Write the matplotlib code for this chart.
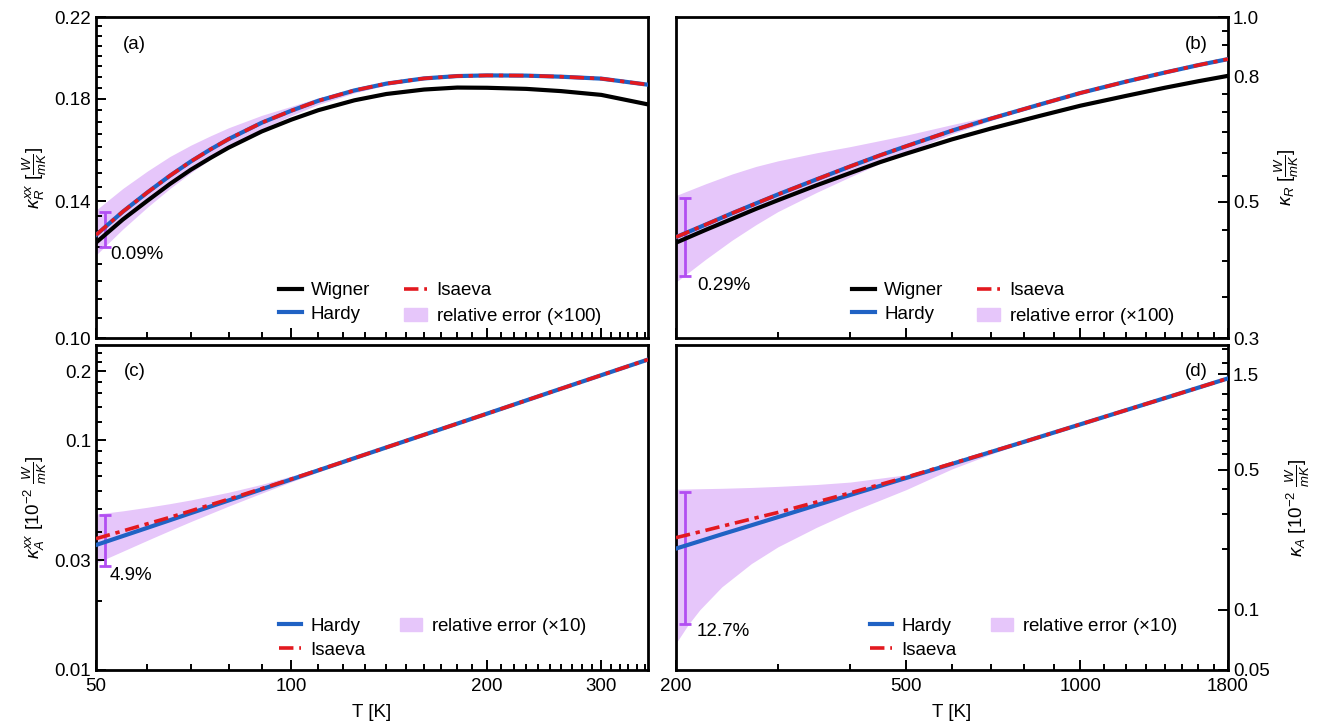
"""Thermal conductivity comparison: Wigner / Hardy / Isaeva"""

import matplotlib
matplotlib.use("Agg")
import matplotlib.pyplot as plt
from matplotlib.patches import Patch
from matplotlib.ticker import FixedLocator, NullFormatter

plt.rcParams["font.family"] = ["Liberation Sans", "DejaVu Sans"]
plt.rcParams["mathtext.fontset"] = "custom"
plt.rcParams["mathtext.rm"] = "Liberation Sans"
plt.rcParams["mathtext.it"] = "Liberation Sans:italic"

# ---- panel (a): kappa_R^xx, low T ----
T_a = [50, 55, 60, 65, 70, 75, 80, 90, 100, 110, 125, 140, 160, 180, 200, 230, 260, 300, 354]
wigner_a = [0.1264, 0.1338, 0.1401, 0.1460, 0.1512, 0.1556, 0.1596, 0.1661, 0.1710, 0.1750,
            0.1793, 0.1821, 0.1841, 0.1850, 0.1849, 0.1844, 0.1834, 0.1817, 0.1775]
hardy_a = [0.1288, 0.1364, 0.1430, 0.1490, 0.1543, 0.1589, 0.1630, 0.1697, 0.1748, 0.1791,
           0.1837, 0.1868, 0.1892, 0.1903, 0.1906, 0.1905, 0.1900, 0.1891, 0.1863]
isaeva_a = [0.1288, 0.1364, 0.1430, 0.1490, 0.1543, 0.1589, 0.1630, 0.1697, 0.1748, 0.1791,
            0.1837, 0.1868, 0.1892, 0.1903, 0.1906, 0.1905, 0.1900, 0.1891, 0.1863]
band_hi_a = [0.1369, 0.1444, 0.1507, 0.1562, 0.1606, 0.1643, 0.1676, 0.1728, 0.1767, 0.1804,
             0.1843, 0.1871, 0.1894, 0.1905, 0.1908, 0.1907, 0.1902, 0.1893, 0.1865]
band_lo_a = [0.1226, 0.1307, 0.1379, 0.1444, 0.1501, 0.1551, 0.1596, 0.1670, 0.1727, 0.1775,
             0.1826, 0.1861, 0.1888, 0.1901, 0.1904, 0.1903, 0.1898, 0.1889, 0.1861]
err_a = (51.6, 0.1250, 0.1363, "0.09%")

# ---- panel (b): kappa_R, high T ----
T_b = [200, 225, 250, 275, 300, 350, 400, 450, 500, 600, 700, 850, 1000, 1200, 1400, 1600, 1800]
wigner_b = [0.429, 0.450, 0.469, 0.487, 0.503, 0.532, 0.557, 0.580, 0.599,
            0.632, 0.658, 0.690, 0.717, 0.744, 0.767, 0.786, 0.802]
hardy_b = [0.438, 0.459, 0.479, 0.497, 0.514, 0.544, 0.571, 0.595, 0.616,
           0.653, 0.683, 0.720, 0.752, 0.785, 0.812, 0.835, 0.854]
isaeva_b = [0.438, 0.459, 0.479, 0.497, 0.514, 0.544, 0.571, 0.595, 0.616,
            0.653, 0.683, 0.720, 0.752, 0.785, 0.812, 0.835, 0.854]
band_hi_b = [0.512, 0.535, 0.555, 0.571, 0.583, 0.601, 0.615, 0.629, 0.642,
             0.668, 0.690, 0.724, 0.754, 0.786, 0.813, 0.836, 0.855]
band_lo_b = [0.370, 0.403, 0.433, 0.459, 0.482, 0.518, 0.549, 0.577, 0.602,
             0.645, 0.678, 0.718, 0.751, 0.784, 0.811, 0.834, 0.853]
err_b = (207, 0.3787, 0.5077, "0.29%")

# ---- panel (c): kappa_A^xx, low T ----
T_c = [50, 55, 60, 65, 70, 80, 90, 100, 115, 130, 150, 200, 250, 300, 354]
hardy_c = [0.0350, 0.0383, 0.0416, 0.0449, 0.0482, 0.0547, 0.0612, 0.0676,
           0.0772, 0.0868, 0.0994, 0.1306, 0.1616, 0.1921, 0.2247]
isaeva_c = [0.0373, 0.0403, 0.0433, 0.0462, 0.0493, 0.0554, 0.0616, 0.0678,
            0.0773, 0.0868, 0.0994, 0.1306, 0.1616, 0.1921, 0.2247]
band_hi_c = [0.0477, 0.0493, 0.0511, 0.0530, 0.0550, 0.0594, 0.0643, 0.0699,
             0.0787, 0.0876, 0.0998, 0.1308, 0.1618, 0.1923, 0.2249]
band_lo_c = [0.0292, 0.0329, 0.0367, 0.0405, 0.0443, 0.0517, 0.0589, 0.0660,
             0.0763, 0.0864, 0.0993, 0.1305, 0.1615, 0.1920, 0.2246]
err_c = (51.6, 0.0283, 0.0472, "4.9%")

# ---- panel (d): kappa_A, high T ----
T_d = [200, 210, 220, 240, 270, 300, 350, 400, 500, 600, 700, 800, 1000, 1200, 1400, 1600, 1800]
hardy_d = [0.202, 0.211, 0.220, 0.238, 0.264, 0.290, 0.333, 0.374, 0.455,
           0.535, 0.613, 0.690, 0.843, 0.993, 1.140, 1.286, 1.430]
isaeva_d = [0.229, 0.237, 0.245, 0.261, 0.284, 0.306, 0.345, 0.383, 0.459,
            0.537, 0.614, 0.690, 0.843, 0.993, 1.140, 1.286, 1.430]
band_hi_d = [0.400, 0.401, 0.402, 0.404, 0.408, 0.413, 0.422, 0.434, 0.472,
             0.543, 0.617, 0.692, 0.844, 0.994, 1.141, 1.287, 1.431]
band_lo_d = [0.068, 0.0843, 0.1001, 0.130, 0.170, 0.206, 0.258, 0.307, 0.398,
             0.505, 0.598, 0.683, 0.840, 0.990, 1.137, 1.283, 1.427]
err_d = (207, 0.0849, 0.388, "12.7%")

C_WIGNER = "black"
C_HARDY = "#2062c4"
C_ISAEVA = "#e3191f"
C_BAND = "#e6c6fa"
C_ERR = "#b24ef2"
FS = 13.5

fig = plt.figure(figsize=(13.2, 7.24), dpi=100)
ax_a = fig.add_axes([0.0727, 0.5331, 0.4182, 0.4434])
ax_b = fig.add_axes([0.5121, 0.5331, 0.4182, 0.4434])
ax_c = fig.add_axes([0.0727, 0.0746, 0.4182, 0.4489])
ax_d = fig.add_axes([0.5121, 0.0746, 0.4182, 0.4489])


def draw(ax, T, band_lo, band_hi, err, hardy, isaeva, wigner=None):
    ax.fill_between(T, band_lo, band_hi, color=C_BAND, lw=0, zorder=1)
    t0, lo, hi, txt = err
    ax.errorbar([t0], [(lo + hi) / 2], yerr=[(hi - lo) / 2], color=C_ERR,
                lw=2, capsize=4, capthick=2, zorder=2)
    if wigner is not None:
        ax.plot(T, wigner, color=C_WIGNER, lw=3, zorder=3, label="Wigner")
    ax.plot(T, hardy, color=C_HARDY, lw=3, zorder=4, label="Hardy")
    ax.plot(T, isaeva, color=C_ISAEVA, lw=2.6, dashes=(4, 1.6, 1.2, 1.6),
            zorder=5, label="Isaeva")
    return txt


def style(ax, xlim, ylim, xmaj, xmin, ymaj, ymin, ylabels, right=False):
    ax.set_xscale("log")
    ax.set_yscale("log")
    ax.set_xlim(*xlim)
    ax.set_ylim(*ylim)
    ax.xaxis.set_major_locator(FixedLocator(xmaj))
    ax.xaxis.set_minor_locator(FixedLocator(xmin))
    ax.yaxis.set_major_locator(FixedLocator(ymaj))
    ax.yaxis.set_minor_locator(FixedLocator(ymin))
    ax.xaxis.set_minor_formatter(NullFormatter())
    ax.yaxis.set_minor_formatter(NullFormatter())
    ax.set_xticklabels([str(v) for v in xmaj])
    ax.set_yticklabels(ylabels)
    ax.tick_params(which="both", direction="in", labelsize=FS, width=1.4,
                   top=False, right=right, left=not right,
                   labelleft=not right, labelright=right)
    ax.tick_params(which="major", length=7)
    ax.tick_params(which="minor", length=4)
    ax.tick_params(axis="x", pad=6)
    for s in ax.spines.values():
        s.set_linewidth(2)
    if right:
        ax.yaxis.set_label_position("right")


txt_a = draw(ax_a, T_a, band_lo_a, band_hi_a, err_a, hardy_a, isaeva_a, wigner_a)
txt_b = draw(ax_b, T_b, band_lo_b, band_hi_b, err_b, hardy_b, isaeva_b, wigner_b)
txt_c = draw(ax_c, T_c, band_lo_c, band_hi_c, err_c, hardy_c, isaeva_c)
txt_d = draw(ax_d, T_d, band_lo_d, band_hi_d, err_d, hardy_d, isaeva_d)

x_lo_min = list(range(60, 100, 10)) + list(range(110, 200, 10)) + \
    list(range(210, 300, 10)) + list(range(310, 360, 10))
x_hi_min = [300, 400] + list(range(600, 1000, 100)) + list(range(1100, 1800, 100))

style(ax_a, (50, 354), (0.10, 0.22), [50, 100, 200, 300], x_lo_min,
      [0.10, 0.14, 0.18, 0.22], [0.105 + 0.005 * i for i in range(23)],
      ["0.10", "0.14", "0.18", "0.22"])
style(ax_b, (200, 1800), (0.3, 1.0), [200, 500, 1000, 1800], x_hi_min,
      [0.3, 0.5, 0.8, 1.0], [0.35 + 0.05 * i for i in range(13)],
      ["0.3", "0.5", "0.8", "1.0"], right=True)
style(ax_c, (50, 354), (0.01, 0.26), [50, 100, 200, 300], x_lo_min,
      [0.01, 0.03, 0.1, 0.2],
      [0.02, 0.04, 0.05, 0.06, 0.07, 0.08, 0.09, 0.12, 0.14, 0.16, 0.18, 0.22, 0.24],
      ["0.01", "0.03", "0.1", "0.2"])
style(ax_d, (200, 1800), (0.05, 2.1), [200, 500, 1000, 1800], x_hi_min,
      [0.05, 0.1, 0.5, 1.5], [0.2, 0.3, 0.4, 0.6, 0.7, 0.8, 0.9, 1.0, 1.2, 1.7, 2.0],
      ["0.05", "0.1", "0.5", "1.5"], right=True)

ax_a.tick_params(labelbottom=False)
ax_b.tick_params(labelbottom=False)

ax_a.set_ylabel(r"$\kappa_R^{xx}\ [\frac{W}{mK}]$", fontsize=FS)
ax_b.set_ylabel(r"$\kappa_R\ [\frac{W}{mK}]$", fontsize=FS, labelpad=10)
ax_c.set_ylabel(r"$\kappa_A^{xx}\ [10^{-2}\ \frac{W}{mK}]$", fontsize=FS)
ax_d.set_ylabel(r"$\kappa_A\ [10^{-2}\ \frac{W}{mK}]$", fontsize=FS, labelpad=10)
ax_c.set_xlabel("T [K]", fontsize=FS, labelpad=6)
ax_d.set_xlabel("T [K]", fontsize=FS, labelpad=6)

# error-bar annotations and panel tags
for ax, txt, pos in [(ax_a, txt_a, (0.025, 0.26)), (ax_b, txt_b, (0.038, 0.165)),
                     (ax_c, txt_c, (0.025, 0.29)), (ax_d, txt_d, (0.038, 0.117))]:
    ax.text(pos[0], pos[1], txt, transform=ax.transAxes, fontsize=FS,
            ha="left", va="center")
for ax, tag, x, y in [(ax_a, "(a)", 0.07, 0.913), (ax_b, "(b)", 0.942, 0.913),
                      (ax_c, "(c)", 0.07, 0.917), (ax_d, "(d)", 0.942, 0.917)]:
    ax.text(x, y, tag, transform=ax.transAxes, fontsize=FS, ha="center", va="center")

# legends
band_patch_100 = Patch(color=C_BAND, label=r"relative error ($\times$100)")
band_patch_10 = Patch(color=C_BAND, label=r"relative error ($\times$10)")
leg_kw = dict(frameon=False, fontsize=FS, ncol=2, handlelength=1.2,
              handletextpad=0.5, columnspacing=1.8, labelspacing=0.35,
              borderaxespad=0.2)
for ax, patch, anchor in [(ax_a, band_patch_100, (0.937, 0.0)),
                          (ax_b, band_patch_100, (0.925, 0.0)),
                          (ax_c, band_patch_10, (0.91, 0.0)),
                          (ax_d, band_patch_10, (0.93, 0.0))]:
    h, l = ax.get_legend_handles_labels()
    if len(h) == 3:
        handles = [h[0], h[1], h[2], patch]
    else:
        handles = [h[0], h[1], patch]
    ax.legend(handles=handles, loc="lower right", bbox_to_anchor=anchor, **leg_kw)

fig.savefig("out.png", dpi=100)
